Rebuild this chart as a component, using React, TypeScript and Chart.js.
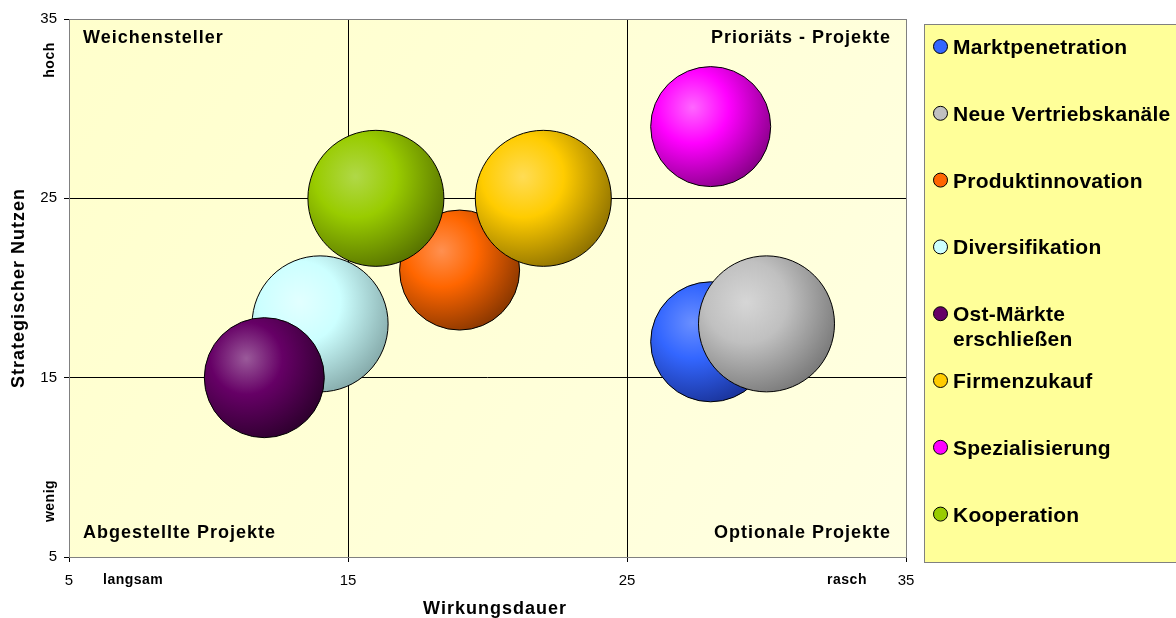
import { useEffect, useRef } from "react";
import { Chart, registerables } from "chart.js";

Chart.register(...registerables);

// ---- data ----
const seriesNames = [
  "Marktpenetration",
  "Neue Vertriebskanäle",
  "Produktinnovation",
  "Diversifikation",
  "Ost-Märkte erschließen",
  "Firmenzukauf",
  "Spezialisierung",
  "Kooperation",
];
const legendLines = [
  ["Marktpenetration"],
  ["Neue Vertriebskanäle"],
  ["Produktinnovation"],
  ["Diversifikation"],
  ["Ost-Märkte", "erschließen"],
  ["Firmenzukauf"],
  ["Spezialisierung"],
  ["Kooperation"],
];
const wirkungsdauer = [28, 30, 19, 14, 12, 22, 28, 16];
const strategischerNutzen = [17, 18, 21, 18, 15, 25, 29, 25];
const bubbleRadius = [60, 68, 60, 68, 60, 68, 60, 68];
const baseColors = ["#3366FF", "#C0C0C0", "#FF6600", "#CCFFFF", "#660066", "#FFCC00", "#FF00FF", "#99CC00"];
const highlightColors = ["#6A8FFF", "#D6D6D6", "#FF9050", "#E2FFFF", "#9A5A9A", "#FFDC55", "#FF66FF", "#B0D848"];
const edgeColors = ["#1A3399", "#7A7A7A", "#8A3700", "#86ABAB", "#2E002E", "#8F7200", "#8A008A", "#587300"];
const xTicks = [5, 15, 25, 35];
const yTicks = [5, 15, 25, 35];
const quadrantLabels = ["Weichensteller", "Prioriäts - Projekte", "Abgestellte Projekte", "Optionale Projekte"];
const xAxisTitle = "Wirkungsdauer";
const yAxisTitle = "Strategischer Nutzen";
const xEndLabels = ["langsam", "rasch"];
const yEndLabels = ["wenig", "hoch"];

const FONT = 'Arial, "Liberation Sans", sans-serif';

function drawText(
  ctx: CanvasRenderingContext2D,
  s: string,
  x: number,
  y: number,
  font: string,
  align: CanvasTextAlign,
  baseline: CanvasTextBaseline,
  rot = 0,
  spacing = "0px"
) {
  ctx.save();
  ctx.translate(x, y);
  if (rot) ctx.rotate(rot);
  ctx.font = font;
  ctx.textAlign = align;
  ctx.textBaseline = baseline;
  (ctx as any).letterSpacing = spacing;
  ctx.fillStyle = "#000";
  ctx.fillText(s, 0, 0);
  ctx.restore();
}

const decorPlugin = {
  id: "decor",
  beforeDraw(chart: any) {
    const { ctx, chartArea: a } = chart;
    ctx.save();
    ctx.fillStyle = "#FFFFFF";
    ctx.fillRect(0, 0, chart.width, chart.height);
    const g = ctx.createLinearGradient(a.left, a.top, a.right, a.bottom);
    g.addColorStop(0, "#FFFFCC");
    g.addColorStop(1, "#FFFFE2");
    ctx.fillStyle = g;
    ctx.fillRect(a.left, a.top, a.right - a.left, a.bottom - a.top);
    ctx.restore();
  },
  afterDraw(chart: any) {
    const { ctx, chartArea: a } = chart;
    ctx.save();
    ctx.strokeStyle = "#808080";
    ctx.lineWidth = 1;
    ctx.strokeRect(Math.round(a.left) + 0.5, Math.round(a.top) + 0.5, Math.round(a.right - a.left), Math.round(a.bottom - a.top));
    ctx.restore();

    const qFont = `bold 18px ${FONT}`;
    drawText(ctx, quadrantLabels[0], a.left + 14, a.top + 24, qFont, "left", "alphabetic", 0, "1px");
    drawText(ctx, quadrantLabels[1], a.right - 15, a.top + 24, qFont, "right", "alphabetic", 0, "1px");
    drawText(ctx, quadrantLabels[2], a.left + 14, a.bottom - 19, qFont, "left", "alphabetic", 0, "1px");
    drawText(ctx, quadrantLabels[3], a.right - 15, a.bottom - 19, qFont, "right", "alphabetic", 0, "1px");

    const sFont = `bold 14px ${FONT}`;
    drawText(ctx, xEndLabels[0], 103, 580, sFont, "left", "middle", 0, "0.5px");
    drawText(ctx, xEndLabels[1], 847, 580, sFont, "center", "middle", 0, "0.5px");
    drawText(ctx, yEndLabels[1], 50, 60, sFont, "center", "middle", -Math.PI / 2, "0.5px");
    drawText(ctx, yEndLabels[0], 50, 501, sFont, "center", "middle", -Math.PI / 2, "0.5px");

    const tFont = `bold 18px ${FONT}`;
    drawText(ctx, xAxisTitle, 495, 609, tFont, "center", "middle", 0, "1px");
    drawText(ctx, yAxisTitle, 19, (a.top + a.bottom) / 2, tFont, "center", "middle", -Math.PI / 2, "1px");

    // legend
    ctx.save();
    ctx.fillStyle = "#FFFF99";
    ctx.fillRect(924, 24, 260, 539);
    ctx.strokeStyle = "#808080";
    ctx.lineWidth = 1;
    ctx.strokeRect(924.5, 24.5, 270, 538);
    ctx.restore();
    const lFont = `bold 21px ${FONT}`;
    legendLines.forEach((lines, i) => {
      const base = 54 + 66.8 * i;
      ctx.save();
      ctx.beginPath();
      ctx.arc(940.5, base - 7.5, 7, 0, Math.PI * 2);
      ctx.fillStyle = baseColors[i];
      ctx.fill();
      ctx.strokeStyle = "#000";
      ctx.lineWidth = 1;
      ctx.stroke();
      ctx.restore();
      lines.forEach((ln, j) => {
        drawText(ctx, ln, 953, base + j * 25, lFont, "left", "alphabetic", 0, "0.25px");
      });
    });
  },
};

export default function App() {
  const ref = useRef<HTMLCanvasElement | null>(null);

  useEffect(() => {
    if (!ref.current) return;
    const datasets = seriesNames.map((name, i) => ({
      label: name,
      order: seriesNames.length - i,
      data: [{ x: wirkungsdauer[i], y: strategischerNutzen[i], r: bubbleRadius[i] }],
      borderColor: "#000000",
      borderWidth: 1,
      backgroundColor: (c: any) => {
        const chart = c.chart;
        const xs = chart.scales?.x;
        const ys = chart.scales?.y;
        const raw = c.raw;
        if (!xs || !ys || !raw) return baseColors[i];
        const cx = xs.getPixelForValue(raw.x);
        const cy = ys.getPixelForValue(raw.y);
        const r = raw.r;
        if (!isFinite(cx) || !isFinite(cy)) return baseColors[i];
        const hx = cx - 0.3 * r;
        const hy = cy - 0.32 * r;
        const g = chart.ctx.createRadialGradient(hx, hy, 0, hx, hy, 1.43 * r);
        g.addColorStop(0, highlightColors[i]);
        g.addColorStop(0.42, baseColors[i]);
        g.addColorStop(1, edgeColors[i]);
        return g;
      },
    }));

    const tickFont = { family: FONT, size: 15, weight: "normal" as const };

    const chart = new Chart(ref.current, {
      type: "bubble",
      data: { datasets },
      plugins: [decorPlugin],
      options: {
        responsive: false,
        animation: false,
        events: [],
        layout: { autoPadding: false, padding: { top: 19, right: 270, left: 0, bottom: 0 } },
        plugins: {
          legend: { display: false },
          tooltip: { enabled: false },
          title: { display: false },
        },
        scales: {
          x: {
            type: "linear",
            min: 5,
            max: 35,
            afterBuildTicks: (s: any) => {
              s.ticks = xTicks.map((v) => ({ value: v }));
            },
            afterFit: (s: any) => {
              s.height = 61;
            },
            ticks: { font: tickFont, color: "#000", padding: 10, maxRotation: 0, autoSkip: false },
            grid: {
              color: (c: any) => (c.tick && (c.tick.value === 15 || c.tick.value === 25) ? "#000" : "rgba(0,0,0,0)"),
              tickColor: "#000",
              tickLength: 5,
              lineWidth: 1,
            },
            border: { display: false },
          },
          y: {
            type: "linear",
            min: 5,
            max: 35,
            afterBuildTicks: (s: any) => {
              s.ticks = yTicks.map((v) => ({ value: v }));
            },
            afterFit: (s: any) => {
              s.width = 69;
            },
            ticks: { font: tickFont, color: "#000", padding: 7, autoSkip: false },
            grid: {
              color: (c: any) => (c.tick && (c.tick.value === 15 || c.tick.value === 25) ? "#000" : "rgba(0,0,0,0)"),
              tickColor: "#000",
              tickLength: 5,
              lineWidth: 1,
            },
            border: { display: false },
          },
        },
      },
    });
    return () => chart.destroy();
  }, []);

  return (
    <div style={{ position: "absolute", left: 0, top: 0, width: 1176, height: 618, overflow: "hidden", background: "#fff" }}>
      <canvas ref={ref} width={1176} height={618} style={{ display: "block" }} />
    </div>
  );
}
